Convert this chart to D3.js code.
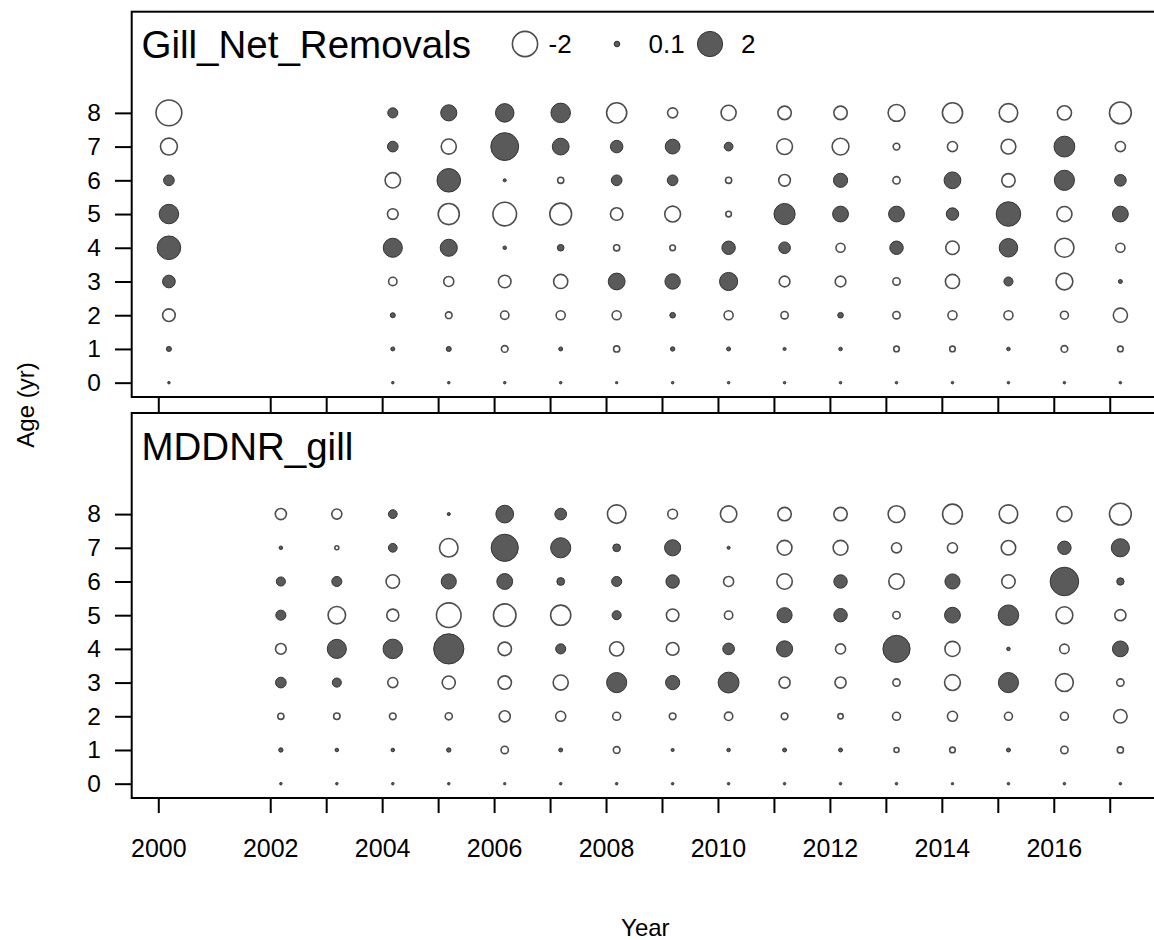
<!DOCTYPE html>
<html>
<head>
<meta charset="utf-8">
<script src="https://cdn.jsdelivr.net/npm/d3@7/dist/d3.min.js"></script>
<style>
  html, body { margin: 0; padding: 0; background: #fff; }
  svg { display: block; font-family: "Liberation Sans", Arial, Helvetica, sans-serif; }
</style>
</head>
<body>
<svg id="chart" width="1154" height="940"></svg>
<script>
// Pearson residuals of age composition by year, two gill-net fleets
const ages = [0, 1, 2, 3, 4, 5, 6, 7, 8];

const gillNetYears = [2000, 2004, 2005, 2006, 2007, 2008, 2009, 2010, 2011, 2012, 2013, 2014, 2015, 2016, 2017];
// rows: age 0 .. age 8
const gillNetResiduals = [
  [0.02, 0.02, 0.02, 0.02, 0.02, -0.01, 0.02, 0.02, 0.02, 0.02, 0.02, 0.02, 0.02, 0.02, 0.02],
  [0.08, 0.05, 0.08, -0.14, 0.05, -0.12, 0.06, 0.05, 0.03, 0.04, -0.1, -0.1, 0.04, -0.14, -0.1],
  [-0.5, 0.08, -0.14, -0.22, -0.26, -0.26, 0.1, -0.26, -0.17, 0.1, -0.17, -0.26, -0.26, -0.2, -0.63],
  [0.51, -0.22, -0.32, -0.5, -0.63, 0.89, 0.75, 1.04, -0.36, -0.36, -0.17, -0.63, 0.26, -0.89, 0.05],
  [1.75, 1.15, 0.92, 0.04, 0.14, -0.12, -0.1, 0.57, 0.43, -0.26, 0.57, -0.57, 1.08, -1.15, -0.26],
  [1.2, -0.36, -1.4, -1.75, -1.5, -0.49, -0.79, -0.1, 1.41, 0.79, 0.79, 0.49, 1.9, -0.72, 0.79],
  [0.36, -0.75, 1.75, 0.03, -0.12, 0.36, 0.36, -0.12, -0.43, 0.63, -0.17, 0.89, -0.57, 1.28, 0.43],
  [-0.9, 0.36, -0.72, 2.45, 0.89, 0.49, 0.69, 0.24, -0.79, -0.89, -0.14, -0.32, -0.69, 1.37, -0.32],
  [-2.1, 0.32, 0.82, 1.08, 1.2, -1.28, -0.32, -0.72, -0.57, -0.57, -0.89, -1.28, -1.08, -0.63, -1.5]
];

const mddnrYears = [2002, 2003, 2004, 2005, 2006, 2007, 2008, 2009, 2010, 2011, 2012, 2013, 2014, 2015, 2016, 2017];
const mddnrResiduals = [
  [0.02, 0.02, 0.02, 0.02, -0.01, 0.02, 0.02, 0.02, 0.02, 0.02, 0.02, 0.02, -0.01, 0.02, 0.02, 0.02],
  [0.06, 0.04, 0.04, 0.06, -0.17, 0.05, -0.14, 0.03, 0.04, 0.05, 0.05, -0.08, -0.1, 0.05, -0.17, -0.12],
  [-0.12, -0.13, -0.14, -0.16, -0.39, -0.32, -0.2, -0.14, -0.22, -0.14, -0.09, -0.2, -0.32, -0.2, -0.2, -0.57],
  [0.36, 0.26, -0.32, -0.54, -0.57, -0.72, 1.28, 0.63, 1.37, -0.39, -0.39, -0.17, -0.79, 1.28, -1.0, -0.17],
  [-0.36, 1.15, 1.2, 2.88, -0.57, 0.32, -0.63, -0.51, 0.43, 0.82, -0.32, 2.33, -0.72, 0.04, -0.28, 0.79],
  [0.32, -0.96, -0.46, -1.9, -1.6, -1.28, 0.26, -0.49, -0.22, 0.72, 0.57, -0.17, 0.79, 1.33, -0.89, -0.39],
  [0.26, 0.32, -0.57, 0.72, 0.79, 0.19, 0.32, 0.57, -0.32, -0.75, 0.57, -0.75, 0.72, -0.57, 2.57, 0.17],
  [0.04, -0.05, 0.24, -1.08, 2.33, 1.28, 0.19, 0.82, 0.03, -0.69, -0.69, -0.32, -0.32, -0.66, 0.57, 1.04],
  [-0.39, -0.32, 0.24, 0.03, 0.99, 0.43, -1.08, -0.3, -0.85, -0.57, -0.57, -0.89, -1.24, -1.08, -0.72, -1.5]
];

const legendValues = [-2, 0.1, 2];
const yearTicks = [2000, 2002, 2003, 2004, 2005, 2006, 2007, 2008, 2009, 2010, 2011, 2012, 2013, 2014, 2015, 2016, 2017];
const yearLabels = [2000, 2002, 2004, 2006, 2008, 2010, 2012, 2014, 2016];

const panels = [
  { title: "Gill_Net_Removals", years: gillNetYears, values: gillNetResiduals, top: 11.7, bottom: 397, legend: true },
  { title: "MDDNR_gill", years: mddnrYears, values: mddnrResiduals, top: 413, bottom: 798, legend: false }
];

const svg = d3.select("#chart");
const left = 131.7, right = 1159;
const bubbleShift = 0.19;
const x = d3.scaleLinear().domain([1999.525, 2017.88]).range([left, right]);
const r = d3.scaleSqrt().domain([0, 2]).range([0, 12.6]);

const openStroke = "#4d4d4d";
const fillColor = "#5a5a5a";
const fillStroke = "#333";

function bubble(sel, v) {
  sel.attr("r", r(Math.abs(v)))
    .attr("fill", v >= 0 ? fillColor : "#fff")
    .attr("stroke", v >= 0 ? fillStroke : openStroke)
    .attr("stroke-width", v >= 0 ? 1 : 1.6);
}

panels.forEach((p, pi) => {
  const y = d3.scaleLinear().domain([-0.425, 11.0]).range([p.bottom, p.top]);
  const g = svg.append("g");

  // bubbles
  const pts = [];
  p.values.forEach((row, ai) => row.forEach((v, yi) => pts.push({ age: ages[ai], year: p.years[yi], v })));
  g.selectAll("circle.b").data(pts).enter().append("circle")
    .attr("class", "b")
    .attr("cx", d => x(d.year + bubbleShift))
    .attr("cy", d => y(d.age))
    .each(function (d) { bubble(d3.select(this), d.v); });

  // y axis
  const yAxis = d3.axisLeft(y).tickValues(ages).tickSize(16.7).tickPadding(14).tickFormat(d3.format("d"));
  const ya = g.append("g").attr("transform", `translate(${left},0)`).call(yAxis);
  ya.select(".domain").remove();
  ya.selectAll("line").attr("stroke", "#000").attr("stroke-width", 2);
  ya.selectAll("text").attr("font-size", 24.5).attr("fill", "#000").attr("font-family", "Liberation Sans, Arial, sans-serif");

  // x axis ticks (labels only on the lower panel)
  const xAxis = d3.axisBottom(x).tickValues(yearTicks).tickSize(15).tickPadding(26)
    .tickFormat(d => (pi === 1 && yearLabels.includes(d)) ? String(d) : "");
  const xa = g.append("g").attr("transform", `translate(0,${p.bottom})`).call(xAxis);
  xa.select(".domain").remove();
  xa.selectAll("line").attr("stroke", "#000").attr("stroke-width", 2);
  xa.selectAll("text").attr("font-size", 25).attr("fill", "#000").attr("font-family", "Liberation Sans, Arial, sans-serif");

  // frame
  g.append("rect")
    .attr("x", left).attr("y", p.top)
    .attr("width", right - left).attr("height", p.bottom - p.top)
    .attr("fill", "none").attr("stroke", "#000").attr("stroke-width", 2);

  // panel title
  g.append("text").attr("x", 141.5).attr("y", p.top + 46.6)
    .attr("font-size", 38.5).attr("fill", "#000").text(p.title);

  // legend
  if (p.legend) {
    const cy = p.top + 32.3;
    const items = [
      { v: legendValues[0], cx: 525, tx: 548.5 },
      { v: legendValues[1], cx: 617, tx: 648.5 },
      { v: legendValues[2], cx: 710, tx: 741 }
    ];
    items.forEach(it => {
      g.append("circle").attr("cx", it.cx).attr("cy", cy).call(s => bubble(s, it.v));
      g.append("text").attr("x", it.tx).attr("y", cy + 9.3)
        .attr("font-size", 26).attr("fill", "#000").text(String(it.v));
    });
  }
});

// axis titles
svg.append("text").attr("x", (left + right) / 2).attr("y", 936)
  .attr("text-anchor", "middle").attr("font-size", 24).attr("fill", "#000").text("Year");
svg.append("text").attr("transform", "translate(34,405) rotate(-90)")
  .attr("text-anchor", "middle").attr("font-size", 24).attr("fill", "#000").text("Age (yr)");
</script>
</body>
</html>
